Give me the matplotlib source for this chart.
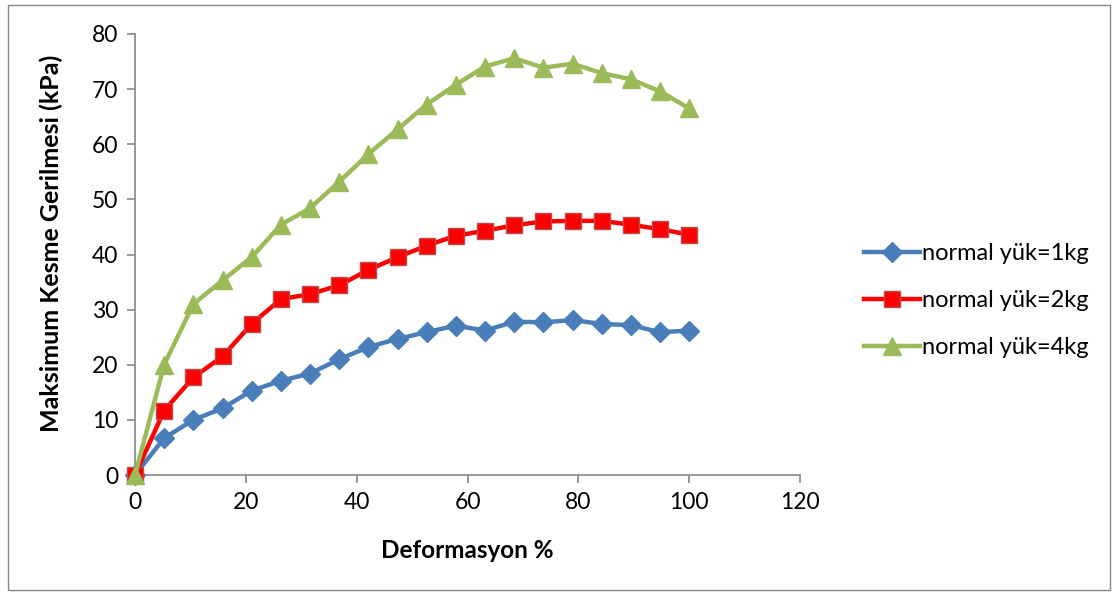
import matplotlib
matplotlib.use("Agg")
import matplotlib.pyplot as plt
from matplotlib.patches import Rectangle

plt.rcParams['font.family'] = ['Lato', 'DejaVu Sans']

deformation = [0, 5.26, 10.53, 15.79, 21.05, 26.32, 31.58, 36.84, 42.11, 47.37,
               52.63, 57.89, 63.16, 68.42, 73.68, 78.95, 84.21, 89.47, 94.74, 100]
load_1kg = [0, 6.7, 10.0, 12.1, 15.3, 17.1, 18.4, 21.0, 23.2, 24.7,
            25.9, 27.1, 26.2, 27.8, 27.7, 28.1, 27.4, 27.2, 25.9, 26.2]
load_2kg = [0, 11.7, 17.7, 21.5, 27.4, 31.9, 32.8, 34.4, 37.2, 39.5,
            41.6, 43.4, 44.3, 45.3, 46.0, 46.1, 46.1, 45.4, 44.6, 43.6]
load_4kg = [0, 20.0, 31.0, 35.3, 39.5, 45.4, 48.4, 53.2, 58.2, 62.7,
            67.2, 70.8, 74.1, 75.6, 73.9, 74.6, 72.9, 71.8, 69.6, 66.5]
labels = ['normal yük=1kg', 'normal yük=2kg', 'normal yük=4kg']

fig = plt.figure(figsize=(11.17, 5.95), dpi=100)
ax = fig.add_axes([135 / 1117, 1 - 475 / 595, 665 / 1117, 441 / 595])

ax.plot(deformation, load_1kg, color='#4a7ebb', lw=3.2, marker='D', ms=10,
        mec='#4a7ebb', label=labels[0], clip_on=False, zorder=3)
ax.plot(deformation, load_2kg, color='#ff0000', lw=3.2, marker='s', ms=11,
        mec='#be4b48', mew=1, label=labels[1], clip_on=False, zorder=3)
ax.plot(deformation, load_4kg, color='#9bbb59', lw=3.2, marker='^', ms=13,
        mec='#9bbb59', label=labels[2], clip_on=False, zorder=3)

ax.set_xlim(0, 120)
ax.set_ylim(0, 80)
ax.set_xticks(range(0, 121, 20))
ax.set_yticks(range(0, 81, 10))
for side in ['top', 'right']:
    ax.spines[side].set_visible(False)
for side in ['left', 'bottom']:
    ax.spines[side].set_color('#868686')
    ax.spines[side].set_linewidth(1.2)
ax.tick_params(direction='out', length=6, width=1.2, color='#868686',
               labelsize=16.5, pad=6)
ax.set_xlabel('Deformasyon %', fontsize=17.5, fontweight='bold', labelpad=19)
ax.set_ylabel('Maksimum Kesme Gerilmesi (kPa)', fontsize=18,
              fontweight='bold', va='center')
ax.yaxis.set_label_coords(-0.126, 0.526)

ax.legend(loc='center left', bbox_to_anchor=(1.065, 0.395), frameon=False,
          fontsize=17, handlelength=2.35, handletextpad=0.1, labelspacing=1.1)

fig.patches.append(Rectangle((8 / 1117, 5 / 595), 1102 / 1117, 585 / 595,
                             transform=fig.transFigure, fill=False,
                             ec='#868686', lw=1))

fig.savefig('out.png', dpi=100)
